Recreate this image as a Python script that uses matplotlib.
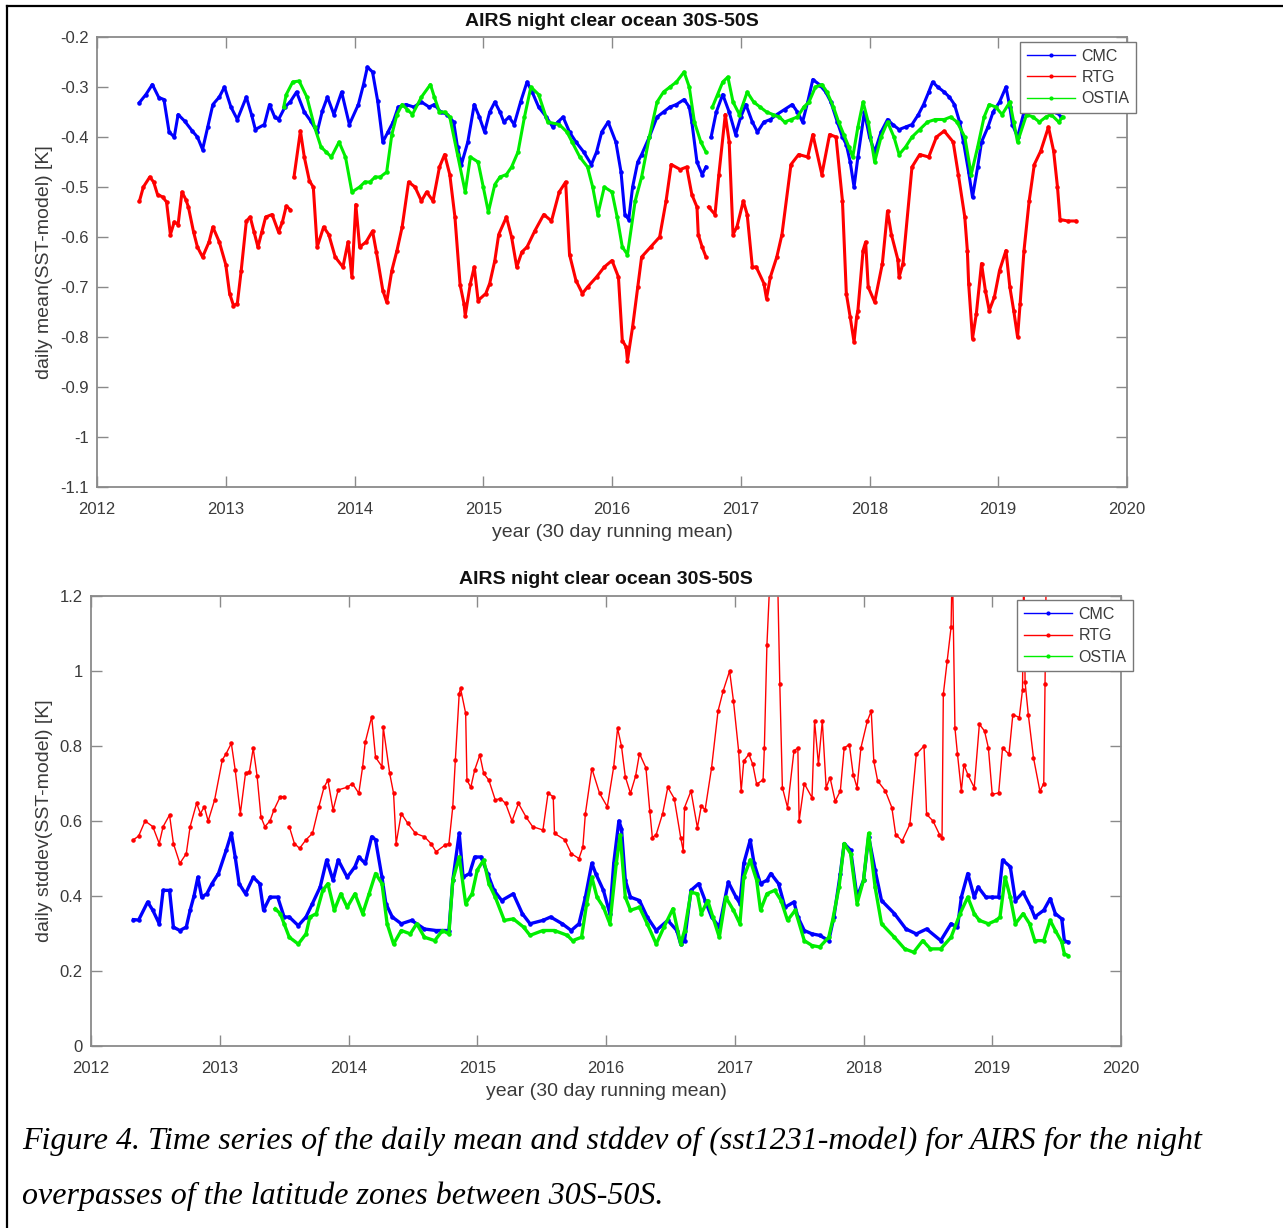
import numpy as np
import matplotlib
matplotlib.use("Agg")
import matplotlib.pyplot as plt
from matplotlib.lines import Line2D
from matplotlib.ticker import FuncFormatter, FixedLocator

nan = np.nan

# ---------------- top panel: daily mean(SST-model) ----------------
t_cmc_mean = [2012.33, 2012.38, 2012.43, 2012.48, 2012.52, 2012.56, 2012.60, 2012.63, 2012.68, 2012.74,
              2012.78, 2012.82, 2012.86, 2012.90, 2012.95, 2012.99, 2013.04, 2013.09, 2013.16, 2013.20,
              2013.23, 2013.30, 2013.34, 2013.38, 2013.41, 2013.46, 2013.50, 2013.55, 2013.61, 2013.66,
              2013.71, 2013.75, 2013.79, 2013.84, 2013.90, 2013.96, 2014.03, 2014.07, 2014.10, 2014.14,
              2014.18, 2014.22, 2014.26, 2014.30, 2014.34, 2014.40, 2014.46, 2014.52, 2014.58, 2014.62,
              2014.67, 2014.72, 2014.77, 2014.80, 2014.83, 2014.88, 2014.93, 2014.97, 2015.01, 2015.05,
              2015.09, 2015.13, 2015.16, 2015.20, 2015.24, 2015.29, 2015.34, 2015.38, 2015.43, 2015.49,
              2015.54, 2015.58, 2015.62, 2015.67, 2015.72, 2015.78, 2015.84, 2015.88, 2015.92, 2015.97,
              2016.03, 2016.07, 2016.10, 2016.13, 2016.16, 2016.20, 2016.23, 2016.29, 2016.35, 2016.40,
              2016.45, 2016.50, 2016.56, 2016.60, 2016.62, 2016.66, 2016.70, 2016.73, 2016.75, 2016.77,
              2016.81, 2016.86, 2016.91, 2016.96, 2017.00, 2017.04, 2017.09, 2017.13, 2017.18, 2017.23,
              2017.28, 2017.34, 2017.40, 2017.44, 2017.48, 2017.52, 2017.56, 2017.61, 2017.66, 2017.70,
              2017.75, 2017.79, 2017.82, 2017.85, 2017.88, 2017.91, 2017.96, 2018.00, 2018.04, 2018.09,
              2018.14, 2018.18, 2018.23, 2018.28, 2018.33, 2018.38, 2018.42, 2018.46, 2018.49, 2018.53,
              2018.58, 2018.62, 2018.66, 2018.70, 2018.73, 2018.77, 2018.80, 2018.84, 2018.87, 2018.92,
              2018.96, 2019.01, 2019.06, 2019.09, 2019.11, 2019.15, 2019.20, 2019.25, 2019.30, 2019.35,
              2019.40, 2019.45, 2019.49]
v_cmc_mean = [-0.331, -0.315, -0.295, -0.321, -0.325, -0.39, -0.40, -0.355, -0.368, -0.388,
              -0.40, -0.425, -0.38, -0.335, -0.32, -0.30, -0.34, -0.365, -0.32, -0.355,
              -0.385, -0.375, -0.335, -0.36, -0.365, -0.34, -0.33, -0.31, -0.35, -0.368,
              -0.39, -0.348, -0.32, -0.355, -0.31, -0.375, -0.335, -0.295, -0.26, -0.27,
              -0.328, -0.41, -0.39, -0.37, -0.34, -0.335, -0.34, -0.33, -0.34, -0.335,
              -0.35, -0.355, -0.37, -0.42, -0.455, -0.41, -0.335, -0.36, -0.39, -0.35,
              -0.33, -0.35, -0.37, -0.36, -0.375, -0.33, -0.29, -0.31, -0.34, -0.36,
              -0.38, -0.37, -0.36, -0.39, -0.41, -0.43, -0.455, -0.43, -0.39, -0.37,
              -0.41, -0.47, -0.555, -0.565, -0.50, -0.45, -0.435, -0.40, -0.36, -0.35,
              -0.34, -0.335, -0.325, -0.34, -0.37, -0.45, -0.475, -0.46, nan, -0.40,
              -0.35, -0.315, -0.35, -0.395, -0.36, -0.335, -0.37, -0.39, -0.37, -0.365,
              -0.355, -0.345, -0.335, -0.35, -0.37, -0.33, -0.285, -0.295, -0.31, -0.33,
              -0.37, -0.40, -0.415, -0.45, -0.50, -0.44, -0.35, -0.40, -0.43, -0.39,
              -0.365, -0.375, -0.385, -0.38, -0.375, -0.355, -0.335, -0.31, -0.29, -0.30,
              -0.31, -0.32, -0.335, -0.37, -0.41, -0.47, -0.52, -0.46, -0.41, -0.38,
              -0.35, -0.33, -0.30, -0.34, -0.375, -0.40, -0.35, -0.34, -0.33, -0.34,
              -0.33, -0.35, -0.36]

t_rtg_mean = [2012.33, 2012.36, 2012.41, 2012.44, 2012.47, 2012.51, 2012.54, 2012.57, 2012.60, 2012.63,
              2012.66, 2012.69, 2012.71, 2012.75, 2012.78, 2012.82, 2012.87, 2012.90, 2012.95, 2013.00,
              2013.03, 2013.06, 2013.09, 2013.12, 2013.16, 2013.19, 2013.22, 2013.25, 2013.28, 2013.31,
              2013.36, 2013.41, 2013.44, 2013.47, 2013.50, 2013.515, 2013.53, 2013.58, 2013.61, 2013.65,
              2013.68, 2013.71, 2013.76, 2013.80, 2013.85, 2013.91, 2013.95, 2013.98, 2014.01, 2014.04,
              2014.09, 2014.14, 2014.17, 2014.22, 2014.25, 2014.29, 2014.33, 2014.37, 2014.42, 2014.47,
              2014.52, 2014.56, 2014.61, 2014.66, 2014.70, 2014.74, 2014.78, 2014.82, 2014.85, 2014.86,
              2014.90, 2014.93, 2014.96, 2015.02, 2015.05, 2015.09, 2015.12, 2015.18, 2015.22, 2015.26,
              2015.30, 2015.34, 2015.40, 2015.47, 2015.53, 2015.59, 2015.64, 2015.67, 2015.72, 2015.77,
              2015.81, 2015.88, 2015.94, 2016.00, 2016.05, 2016.08, 2016.11, 2016.12, 2016.16, 2016.20,
              2016.23, 2016.30, 2016.37, 2016.42, 2016.46, 2016.53, 2016.58, 2016.62, 2016.66, 2016.67,
              2016.70, 2016.73, 2016.74, 2016.75, 2016.80, 2016.83, 2016.88, 2016.91, 2016.94, 2016.97,
              2017.02, 2017.05, 2017.09, 2017.12, 2017.18, 2017.20, 2017.23, 2017.28, 2017.32, 2017.39,
              2017.45, 2017.52, 2017.56, 2017.63, 2017.69, 2017.74, 2017.79, 2017.82, 2017.85, 2017.88,
              2017.90, 2017.91, 2017.95, 2017.97, 2017.99, 2018.04, 2018.10, 2018.14, 2018.17, 2018.22,
              2018.23, 2018.26, 2018.33, 2018.39, 2018.46, 2018.52, 2018.58, 2018.65, 2018.69, 2018.74,
              2018.76, 2018.77, 2018.80, 2018.83, 2018.87, 2018.90, 2018.93, 2018.97, 2019.01, 2019.06,
              2019.09, 2019.12, 2019.15, 2019.17, 2019.20, 2019.24, 2019.28, 2019.33, 2019.39, 2019.43,
              2019.46, 2019.48, 2019.54, 2019.60]
v_rtg_mean = [-0.528, -0.50, -0.48, -0.49, -0.515, -0.52, -0.53, -0.595, -0.57, -0.575,
              -0.51, -0.525, -0.54, -0.59, -0.62, -0.64, -0.61, -0.58, -0.61, -0.655,
              -0.713, -0.737, -0.733, -0.667, -0.568, -0.56, -0.59, -0.62, -0.59, -0.56,
              -0.555, -0.59, -0.57, -0.538, -0.545, nan, -0.48, -0.388, -0.44, -0.488,
              -0.50, -0.62, -0.58, -0.595, -0.64, -0.66, -0.61, -0.68, -0.535, -0.62,
              -0.61, -0.588, -0.63, -0.707, -0.73, -0.667, -0.627, -0.58, -0.49, -0.50,
              -0.528, -0.51, -0.528, -0.46, -0.435, -0.475, -0.56, -0.695, -0.733, -0.757,
              -0.693, -0.66, -0.727, -0.713, -0.693, -0.647, -0.595, -0.56, -0.60, -0.66,
              -0.63, -0.62, -0.588, -0.555, -0.568, -0.51, -0.49, -0.635, -0.687, -0.713,
              -0.70, -0.68, -0.66, -0.647, -0.68, -0.807, -0.82, -0.847, -0.78, -0.70,
              -0.64, -0.62, -0.60, -0.528, -0.455, -0.465, -0.46, -0.515, -0.54, -0.595,
              -0.62, -0.64, nan, -0.54, -0.555, -0.475, -0.355, -0.41, -0.595, -0.58,
              -0.528, -0.555, -0.66, -0.66, -0.693, -0.723, -0.68, -0.64, -0.595, -0.455,
              -0.435, -0.44, -0.395, -0.475, -0.395, -0.40, -0.528, -0.713, -0.76, -0.81,
              -0.76, -0.747, -0.627, -0.61, -0.70, -0.73, -0.653, -0.548, -0.595, -0.645,
              -0.68, -0.653, -0.46, -0.435, -0.44, -0.40, -0.388, -0.41, -0.475, -0.56,
              -0.627, -0.693, -0.803, -0.753, -0.653, -0.707, -0.747, -0.72, -0.667, -0.627,
              -0.70, -0.747, -0.80, -0.733, -0.627, -0.528, -0.455, -0.428, -0.38, -0.428,
              -0.50, -0.565, -0.568, -0.568]

t_ostia_mean = [2013.45, 2013.47, 2013.52, 2013.57, 2013.63, 2013.69, 2013.74, 2013.78, 2013.82, 2013.88,
                2013.93, 2013.98, 2014.04, 2014.08, 2014.12, 2014.16, 2014.20, 2014.25, 2014.29, 2014.33,
                2014.37, 2014.41, 2014.45, 2014.52, 2014.59, 2014.62, 2014.66, 2014.70, 2014.74, 2014.80,
                2014.86, 2014.90, 2014.96, 2015.00, 2015.04, 2015.09, 2015.13, 2015.18, 2015.22, 2015.27,
                2015.32, 2015.37, 2015.43, 2015.50, 2015.59, 2015.65, 2015.69, 2015.75, 2015.81, 2015.85,
                2015.89, 2015.94, 2016.00, 2016.04, 2016.08, 2016.12, 2016.18, 2016.23, 2016.29, 2016.35,
                2016.40, 2016.45, 2016.50, 2016.56, 2016.60, 2016.64, 2016.69, 2016.73, 2016.75, 2016.78,
                2016.82, 2016.86, 2016.90, 2016.94, 2016.99, 2017.05, 2017.10, 2017.15, 2017.20, 2017.25,
                2017.30, 2017.34, 2017.39, 2017.44, 2017.49, 2017.53, 2017.58, 2017.63, 2017.67, 2017.72,
                2017.76, 2017.80, 2017.84, 2017.87, 2017.91, 2017.95, 2017.99, 2018.04, 2018.09, 2018.14,
                2018.19, 2018.23, 2018.28, 2018.33, 2018.39, 2018.45, 2018.51, 2018.58, 2018.63, 2018.68,
                2018.74, 2018.79, 2018.84, 2018.89, 2018.93, 2018.98, 2019.03, 2019.09, 2019.12, 2019.15,
                2019.22, 2019.27, 2019.32, 2019.37, 2019.41, 2019.47, 2019.50]
v_ostia_mean = [-0.34, -0.315, -0.29, -0.288, -0.32, -0.38, -0.42, -0.43, -0.44, -0.41,
                -0.44, -0.51, -0.50, -0.49, -0.49, -0.48, -0.48, -0.47, -0.395, -0.355,
                -0.335, -0.345, -0.355, -0.32, -0.295, -0.32, -0.35, -0.35, -0.36, -0.435,
                -0.51, -0.44, -0.45, -0.50, -0.55, -0.495, -0.48, -0.475, -0.46, -0.43,
                -0.36, -0.30, -0.315, -0.37, -0.375, -0.39, -0.41, -0.44, -0.46, -0.50,
                -0.555, -0.50, -0.51, -0.56, -0.62, -0.635, -0.528, -0.48, -0.40, -0.33,
                -0.31, -0.30, -0.29, -0.27, -0.30, -0.37, -0.41, -0.43, nan, -0.34,
                -0.315, -0.29, -0.28, -0.33, -0.355, -0.31, -0.33, -0.34, -0.35, -0.355,
                -0.36, -0.37, -0.365, -0.36, -0.34, -0.33, -0.30, -0.295, -0.31, -0.34,
                -0.37, -0.395, -0.42, -0.44, -0.38, -0.33, -0.37, -0.45, -0.40, -0.37,
                -0.40, -0.435, -0.42, -0.40, -0.385, -0.37, -0.365, -0.365, -0.36, -0.37,
                -0.40, -0.475, -0.42, -0.36, -0.335, -0.34, -0.355, -0.33, -0.37, -0.41,
                -0.355, -0.36, -0.37, -0.36, -0.355, -0.37, -0.36]

# ---------------- bottom panel: daily stddev(SST-model) ----------------
t_rtg_std = [2012.33, 2012.37, 2012.42, 2012.48, 2012.53, 2012.56, 2012.61, 2012.64, 2012.69, 2012.74,
             2012.77, 2012.82, 2012.85, 2012.88, 2012.91, 2012.96, 2013.02, 2013.05, 2013.09, 2013.12,
             2013.16, 2013.20, 2013.23, 2013.26, 2013.29, 2013.32, 2013.35, 2013.39, 2013.42, 2013.47,
             2013.50, 2013.52, 2013.54, 2013.58, 2013.62, 2013.67, 2013.72, 2013.77, 2013.81, 2013.84,
             2013.88, 2013.92, 2013.99, 2014.03, 2014.08, 2014.11, 2014.13, 2014.18, 2014.21, 2014.26,
             2014.27, 2014.32, 2014.35, 2014.37, 2014.41, 2014.46, 2014.52, 2014.59, 2014.64, 2014.68,
             2014.75, 2014.78, 2014.81, 2014.83, 2014.86, 2014.87, 2014.91, 2014.92, 2014.95, 2014.98,
             2015.02, 2015.05, 2015.09, 2015.14, 2015.18, 2015.22, 2015.27, 2015.32, 2015.38, 2015.43,
             2015.51, 2015.55, 2015.59, 2015.60, 2015.68, 2015.73, 2015.79, 2015.82, 2015.84, 2015.89,
             2015.95, 2016.01, 2016.06, 2016.09, 2016.12, 2016.15, 2016.19, 2016.23, 2016.26, 2016.31,
             2016.34, 2016.36, 2016.39, 2016.44, 2016.48, 2016.53, 2016.58, 2016.60, 2016.61, 2016.66,
             2016.71, 2016.74, 2016.77, 2016.82, 2016.87, 2016.91, 2016.96, 2016.99, 2017.03, 2017.05,
             2017.07, 2017.11, 2017.14, 2017.17, 2017.22, 2017.23, 2017.25, 2017.28, 2017.33, 2017.35,
             2017.37, 2017.41, 2017.46, 2017.49, 2017.50, 2017.54, 2017.60, 2017.62, 2017.65, 2017.68,
             2017.71, 2017.74, 2017.78, 2017.82, 2017.85, 2017.89, 2017.92, 2017.95, 2017.98, 2018.03,
             2018.06, 2018.08, 2018.11, 2018.17, 2018.22, 2018.25, 2018.30, 2018.36, 2018.41, 2018.47,
             2018.49, 2018.54, 2018.59, 2018.61, 2018.62, 2018.65, 2018.68, 2018.69, 2018.71, 2018.73,
             2018.76, 2018.78, 2018.81, 2018.86, 2018.90, 2018.94, 2018.97, 2019.00, 2019.05, 2019.08,
             2019.13, 2019.16, 2019.21, 2019.235, 2019.245, 2019.255, 2019.28, 2019.32, 2019.37, 2019.40,
             2019.41, 2019.42]
v_rtg_std = [0.55, 0.56, 0.60, 0.585, 0.54, 0.585, 0.616, 0.54, 0.487, 0.513,
             0.585, 0.647, 0.62, 0.638, 0.60, 0.656, 0.763, 0.78, 0.807, 0.736,
             0.62, 0.727, 0.73, 0.794, 0.72, 0.611, 0.585, 0.60, 0.629, 0.665,
             0.665, nan, 0.585, 0.54, 0.527, 0.55, 0.567, 0.638, 0.69, 0.709,
             0.629, 0.683, 0.69, 0.70, 0.674, 0.745, 0.81, 0.878, 0.77, 0.745,
             0.85, 0.727, 0.674, 0.54, 0.62, 0.594, 0.567, 0.558, 0.54, 0.518,
             0.536, 0.54, 0.638, 0.763, 0.94, 0.954, 0.887, 0.709, 0.69, 0.736,
             0.776, 0.727, 0.709, 0.656, 0.66, 0.647, 0.60, 0.647, 0.61, 0.585,
             0.576, 0.674, 0.665, 0.567, 0.55, 0.513, 0.50, 0.53, 0.62, 0.74,
             0.674, 0.638, 0.745, 0.847, 0.80, 0.718, 0.674, 0.72, 0.78, 0.742,
             0.627, 0.556, 0.564, 0.62, 0.69, 0.66, 0.556, 0.52, 0.636, 0.68,
             0.582, 0.64, 0.63, 0.742, 0.893, 0.947, 1.0, 0.92, 0.787, 0.68,
             0.76, 0.778, 0.751, 0.698, 0.71, 0.795, 1.07, 1.3, 1.3, 0.965,
             0.689, 0.636, 0.787, 0.795, 0.60, 0.70, 0.662, 0.867, 0.751, 0.867,
             0.689, 0.716, 0.653, 0.68, 0.795, 0.804, 0.724, 0.689, 0.795, 0.867,
             0.893, 0.76, 0.707, 0.68, 0.636, 0.564, 0.547, 0.591, 0.778, 0.80,
             0.618, 0.60, 0.564, 0.556, 0.938, 1.027, 1.116, 1.3, 0.849, 0.778,
             0.68, 0.75, 0.724, 0.689, 0.858, 0.84, 0.795, 0.671, 0.675, 0.795,
             0.778, 0.884, 0.876, 0.95, 1.3, 0.97, 0.884, 0.769, 0.68, 0.70,
             0.965, 1.3]

t_cmc_std = [2012.33, 2012.37, 2012.44, 2012.48, 2012.53, 2012.56, 2012.61, 2012.64, 2012.69, 2012.74,
             2012.77, 2012.80, 2012.83, 2012.86, 2012.90, 2012.94, 2012.99, 2013.05, 2013.09, 2013.12,
             2013.15, 2013.20, 2013.26, 2013.31, 2013.34, 2013.39, 2013.45, 2013.50, 2013.54, 2013.61,
             2013.67, 2013.72, 2013.78, 2013.83, 2013.88, 2013.92, 2013.99, 2014.05, 2014.08, 2014.13,
             2014.18, 2014.21, 2014.26, 2014.29, 2014.34, 2014.41, 2014.49, 2014.59, 2014.68, 2014.78,
             2014.81, 2014.86, 2014.89, 2014.94, 2014.98, 2015.03, 2015.08, 2015.13, 2015.19, 2015.28,
             2015.35, 2015.41, 2015.51, 2015.57, 2015.66, 2015.73, 2015.79, 2015.84, 2015.89, 2015.92,
             2015.98, 2016.03, 2016.06, 2016.10, 2016.12, 2016.15, 2016.19, 2016.26, 2016.32, 2016.39,
             2016.48, 2016.55, 2016.58, 2016.61, 2016.66, 2016.72, 2016.77, 2016.82, 2016.88, 2016.95,
             2017.01, 2017.04, 2017.07, 2017.12, 2017.15, 2017.20, 2017.25, 2017.28, 2017.34, 2017.39,
             2017.46, 2017.49, 2017.54, 2017.60, 2017.66, 2017.73, 2017.77, 2017.82, 2017.85, 2017.90,
             2017.95, 2018.00, 2018.04, 2018.09, 2018.14, 2018.24, 2018.33, 2018.41, 2018.49, 2018.60,
             2018.68, 2018.73, 2018.76, 2018.81, 2018.86, 2018.89, 2018.95, 2019.00, 2019.05, 2019.08,
             2019.14, 2019.18, 2019.24, 2019.30, 2019.33, 2019.40, 2019.45, 2019.49, 2019.54, 2019.56,
             2019.59]
v_cmc_std = [0.337, 0.336, 0.384, 0.362, 0.326, 0.415, 0.415, 0.317, 0.308, 0.317,
             0.362, 0.40, 0.45, 0.397, 0.406, 0.433, 0.46, 0.522, 0.567, 0.504,
             0.433, 0.406, 0.45, 0.433, 0.362, 0.397, 0.397, 0.344, 0.344, 0.321,
             0.344, 0.38, 0.424, 0.496, 0.442, 0.496, 0.45, 0.478, 0.504, 0.487,
             0.558, 0.55, 0.45, 0.38, 0.344, 0.326, 0.335, 0.312, 0.308, 0.308,
             0.442, 0.567, 0.45, 0.46, 0.504, 0.504, 0.46, 0.415, 0.388, 0.406,
             0.353, 0.326, 0.335, 0.344, 0.326, 0.308, 0.326, 0.397, 0.487, 0.46,
             0.415, 0.353, 0.487, 0.60, 0.58, 0.442, 0.397, 0.388, 0.344, 0.308,
             0.335, 0.308, 0.272, 0.281, 0.415, 0.433, 0.388, 0.344, 0.317, 0.437,
             0.397, 0.38, 0.487, 0.549, 0.487, 0.433, 0.442, 0.46, 0.433, 0.37,
             0.384, 0.344, 0.308, 0.299, 0.295, 0.281, 0.344, 0.46, 0.54, 0.522,
             0.397, 0.442, 0.558, 0.469, 0.388, 0.353, 0.312, 0.299, 0.312, 0.281,
             0.326, 0.317, 0.397, 0.46, 0.397, 0.424, 0.397, 0.397, 0.397, 0.496,
             0.478, 0.388, 0.41, 0.37, 0.344, 0.362, 0.393, 0.353, 0.339, 0.281,
             0.277]

t_ostia_std = [2013.43, 2013.47, 2013.50, 2013.54, 2013.61, 2013.67, 2013.70, 2013.75, 2013.80, 2013.84,
               2013.89, 2013.94, 2013.99, 2014.05, 2014.11, 2014.16, 2014.21, 2014.26, 2014.30, 2014.35,
               2014.41, 2014.48, 2014.53, 2014.59, 2014.67, 2014.73, 2014.78, 2014.81, 2014.86, 2014.91,
               2014.96, 2015.00, 2015.05, 2015.09, 2015.14, 2015.21, 2015.28, 2015.36, 2015.41, 2015.51,
               2015.60, 2015.70, 2015.74, 2015.81, 2015.85, 2015.89, 2015.93, 2015.98, 2016.03, 2016.08,
               2016.11, 2016.15, 2016.19, 2016.26, 2016.32, 2016.39, 2016.45, 2016.52, 2016.58, 2016.61,
               2016.66, 2016.71, 2016.74, 2016.79, 2016.83, 2016.88, 2016.93, 2016.99, 2017.04, 2017.07,
               2017.12, 2017.17, 2017.20, 2017.25, 2017.31, 2017.36, 2017.41, 2017.47, 2017.54, 2017.60,
               2017.66, 2017.73, 2017.76, 2017.81, 2017.85, 2017.90, 2017.95, 2018.00, 2018.04, 2018.09,
               2018.14, 2018.24, 2018.32, 2018.39, 2018.46, 2018.52, 2018.60, 2018.68, 2018.75, 2018.81,
               2018.86, 2018.90, 2018.97, 2019.03, 2019.06, 2019.10, 2019.14, 2019.18, 2019.24, 2019.29,
               2019.33, 2019.40, 2019.45, 2019.49, 2019.54, 2019.56, 2019.59]
v_ostia_std = [0.366, 0.353, 0.326, 0.29, 0.272, 0.299, 0.344, 0.353, 0.415, 0.433,
               0.362, 0.406, 0.37, 0.406, 0.353, 0.406, 0.46, 0.433, 0.326, 0.272,
               0.308, 0.299, 0.326, 0.29, 0.281, 0.308, 0.299, 0.442, 0.504, 0.38,
               0.406, 0.469, 0.496, 0.433, 0.397, 0.335, 0.339, 0.317, 0.295, 0.308,
               0.308, 0.295, 0.281, 0.29, 0.38, 0.45, 0.397, 0.37, 0.326, 0.487,
               0.563, 0.397, 0.362, 0.37, 0.326, 0.272, 0.317, 0.366, 0.272, 0.308,
               0.41, 0.406, 0.353, 0.388, 0.344, 0.29, 0.397, 0.362, 0.326, 0.45,
               0.496, 0.442, 0.362, 0.406, 0.415, 0.388, 0.335, 0.362, 0.281, 0.268,
               0.264, 0.29, 0.335, 0.424, 0.54, 0.513, 0.38, 0.442, 0.567, 0.424,
               0.326, 0.29, 0.259, 0.25, 0.281, 0.259, 0.259, 0.29, 0.353, 0.397,
               0.353, 0.335, 0.326, 0.335, 0.344, 0.45, 0.397, 0.326, 0.353, 0.326,
               0.281, 0.281, 0.335, 0.308, 0.277, 0.246, 0.241]

series_names = ["CMC", "RTG", "OSTIA"]
series_colors = ["#0000ff", "#ff0000", "#00ee00"]
x_ticks = [2012, 2013, 2014, 2015, 2016, 2017, 2018, 2019, 2020]
y_ticks_mean = [-1.1, -1.0, -0.9, -0.8, -0.7, -0.6, -0.5, -0.4, -0.3, -0.2]
y_ticks_std = [0, 0.2, 0.4, 0.6, 0.8, 1.0, 1.2]

title_text = "AIRS night clear ocean 30S-50S"
xlabel_text = "year (30 day running mean)"
ylabel_mean = "daily mean(SST-model) [K]"
ylabel_std = "daily stddev(SST-model) [K]"
caption1 = "Figure 4. Time series of the daily mean and stddev of (sst1231-model) for AIRS for the night"
caption2 = "overpasses of the latitude zones between 30S-50S."

plt.rcParams['font.family'] = ['Liberation Sans', 'DejaVu Sans']

W, H = 1283, 1228
fig = plt.figure(figsize=(W / 100, H / 100), dpi=100)
fig.patch.set_facecolor('white')

def px_axes(left, top, right, bottom):
    return fig.add_axes([left / W, 1 - bottom / H, (right - left) / W, (bottom - top) / H])

ax1 = px_axes(97, 37, 1127, 487)
ax2 = px_axes(91, 596, 1121, 1046)

fmt = FuncFormatter(lambda v, p: "%g" % round(v, 3))
grey_axis = "#8a8a8a"
grey_text = "#3a3a3a"

def style(ax, yticks, ylim, ylabel, legend_anchor):
    ax.set_xlim(2012, 2020)
    ax.set_ylim(*ylim)
    ax.xaxis.set_major_locator(FixedLocator(x_ticks))
    ax.yaxis.set_major_locator(FixedLocator(yticks))
    ax.xaxis.set_major_formatter(FuncFormatter(lambda v, p: "%d" % round(v)))
    ax.yaxis.set_major_formatter(fmt)
    ax.tick_params(direction='in', length=8, width=1.0, color=grey_axis, labelcolor=grey_text,
                   labelsize=12, top=True, right=True, pad=6)
    ax.tick_params(axis='x', pad=11)
    for s in ax.spines.values():
        s.set_color(grey_axis)
        s.set_linewidth(1.3)
    ax.set_xlabel(xlabel_text, fontsize=14, color=grey_text, labelpad=5)
    ax.set_ylabel(ylabel, fontsize=14, color=grey_text, labelpad=5)
    ax.text(0.5, 1.0 + 16 / 450, title_text, transform=ax.transAxes, ha='center', va='center',
            fontsize=14, fontweight='bold', color='#111111')
    leg = ax.legend(loc='upper right', bbox_to_anchor=legend_anchor, fontsize=11.5,
                    handlelength=3.0, handletextpad=0.4, labelspacing=0.40, borderpad=0.42,
                    fancybox=False, framealpha=1.0, edgecolor='#777777', borderaxespad=0)
    leg.get_frame().set_linewidth(1.0)
    for txt in leg.get_texts():
        txt.set_color(grey_text)
    for ln in leg.get_lines():
        ln.set_linewidth(1.0)
        ln.set_markersize(4)

mean_series = [(t_cmc_mean, v_cmc_mean), (t_rtg_mean, v_rtg_mean), (t_ostia_mean, v_ostia_mean)]
std_series = [(t_cmc_std, v_cmc_std), (t_rtg_std, v_rtg_std), (t_ostia_std, v_ostia_std)]

for (t, v), name, col in zip(mean_series, series_names, series_colors):
    ax1.plot(t, v, '-', color=col, lw=2.2, marker='.', markersize=4.5, label=name)
style(ax1, y_ticks_mean, (-1.1, -0.2), ylabel_mean, (1.0087, 0.989))

for (t, v), name, col in zip(std_series, series_names, series_colors):
    if name == "RTG":
        ax2.plot(t, v, '-', color=col, lw=1.0, marker='.', markersize=4.5, label=name)
    else:
        ax2.plot(t, v, '-', color=col, lw=2.4, marker='.', markersize=4.5, label=name)
style(ax2, y_ticks_std, (0, 1.2), ylabel_std, (1.0117, 0.991))

# caption
fig.text(22 / W, 1 - 1141 / H, caption1, family=['Liberation Serif', 'DejaVu Serif'], style='italic',
         fontsize=23, va='center', ha='left', color='black')
fig.text(22 / W, 1 - 1196 / H, caption2, family=['Liberation Serif', 'DejaVu Serif'], style='italic',
         fontsize=23, va='center', ha='left', color='black')

# page frame (left and top edges)
fig.add_artist(Line2D([7 / W, 7 / W], [0, 1 - 6 / H], color='black', lw=1.6, transform=fig.transFigure))
fig.add_artist(Line2D([7 / W, 1], [1 - 6 / H, 1 - 6 / H], color='black', lw=1.6, transform=fig.transFigure))

fig.savefig("out.png", dpi=100, facecolor='white')
